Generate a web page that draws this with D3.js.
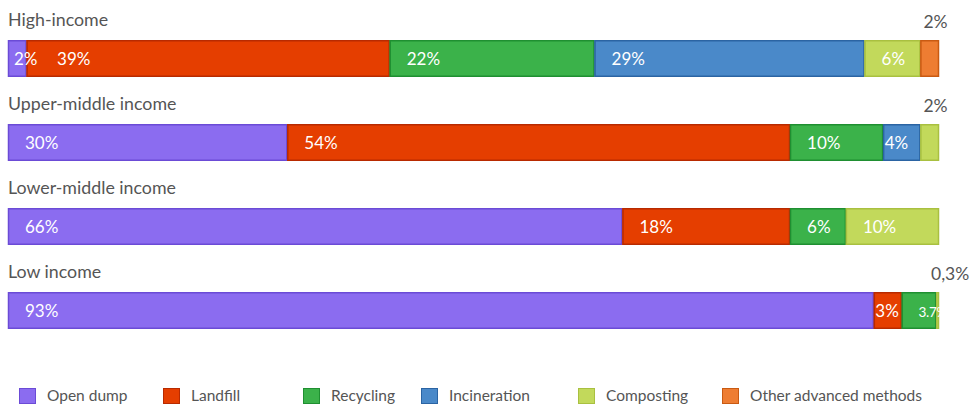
<!DOCTYPE html>
<html><head><meta charset="utf-8">
<script src="https://cdn.jsdelivr.net/npm/d3@7"></script>
<style>
html,body{margin:0;padding:0;background:#fff;}
svg{display:block;font-family:Lato,"Open Sans",sans-serif;}
</style></head>
<body><svg id="c" width="973" height="405"></svg>
<script>
const categories = ["High-income","Upper-middle income","Lower-middle income","Low income"];
const methods = ["Open dump","Landfill","Recycling","Incineration","Composting","Other advanced methods"];
const openDump    = [2, 30, 66, 93];
const landfill    = [39, 54, 18, 3];
const recycling   = [22, 10, 6, 3.7];
const incineration= [29, 4, 0, 0];
const composting  = [6, 2, 10, 0.3];
const otherAdv    = [2, 0, 0, 0];
const valueLabels = [
  ["2%","39%","22%","29%","6%","2%"],
  ["30%","54%","10%","4%","2%",""],
  ["66%","18%","6%","","10%",""],
  ["93%","3%","3.7%","","0,3%",""]
];
const fills   = ["#8b6cf0","#e53e00","#3bb24a","#4a89c9","#c2d95b","#ee7d32"];
const strokes = ["#6b4bd6","#b82a00","#1f8f31","#2b64a3","#a9c040","#c95a12"];

const series = [openDump, landfill, recycling, incineration, composting, otherAdv];
const svg = d3.select("#c");
const x = d3.scaleLinear().domain([0,100]).range([8,939]);
const y = d3.scaleBand().domain(categories).range([40,376]).padding(0);
const barH = 37;

categories.forEach((cat, i) => {
  const g = svg.append("g");
  const top = y(cat);
  g.append("text").attr("x", 8).attr("y", top - 14)
    .attr("fill","#555").attr("font-size",17.8).text(cat);
  const segs = [];
  let cum = 0;
  series.forEach((s, k) => {
    const v = s[i];
    if (!v) return;
    segs.push({k, x0: x(cum), x1: x(cum + v), lbl: valueLabels[i][k]});
    cum += v;
  });
  segs.forEach(d => {
    g.append("rect").attr("x", d.x0).attr("y", top).attr("width", d.x1 - d.x0).attr("height", barH)
      .attr("fill", fills[d.k]);
    g.append("rect").attr("x", d.x0+0.5).attr("y", top+0.75).attr("width", Math.max(0,d.x1 - d.x0-1)).attr("height", barH-1.5)
      .attr("fill","none").attr("stroke", strokes[d.k]).attr("stroke-width",1.5);
  });
  let prevEnd = -Infinity;
  segs.forEach((d, j) => {
    if (!d.lbl) return;
    const w = d.x1 - d.x0;
    const last = j === segs.length - 1;
    if (last && w < 25) {
      g.append("text").attr("x", Math.min(d.x0 + 3, x(100) - 8)).attr("y", top - 12)
        .attr("fill","#555").attr("font-size",17.5).text(d.lbl);
    } else {
      const pad = w < 45 ? (w < 25 ? 6 : 1.5) : 17;
      const tx = Math.max(d.x0 + pad, prevEnd + 22);
      let fs = 17;
      if (w >= 25 && w < 45) fs = Math.min(17, (w - 4) / (0.56 * d.lbl.length));
      const t = g.append("text").attr("x", tx).attr("y", top + barH/2 + 6)
        .attr("fill","#fff").attr("font-size",fs).text(d.lbl);
      if (fs < 17) t.attr("letter-spacing", -0.3);
      prevEnd = tx + fs * 0.62 * d.lbl.length;
    }
  });
});

// legend
const lx = [19, 163, 303, 421, 578, 722];
const leg = svg.append("g");
methods.forEach((m, k) => {
  leg.append("rect").attr("x", lx[k]+0.5).attr("y", 388.5).attr("width", 16).attr("height", 15)
    .attr("fill", fills[k]).attr("stroke", strokes[k]).attr("stroke-width",1);
  leg.append("text").attr("x", lx[k] + 28).attr("y", 401).attr("fill","#555")
    .attr("font-size",15.5).text(m);
});
</script></body></html>
